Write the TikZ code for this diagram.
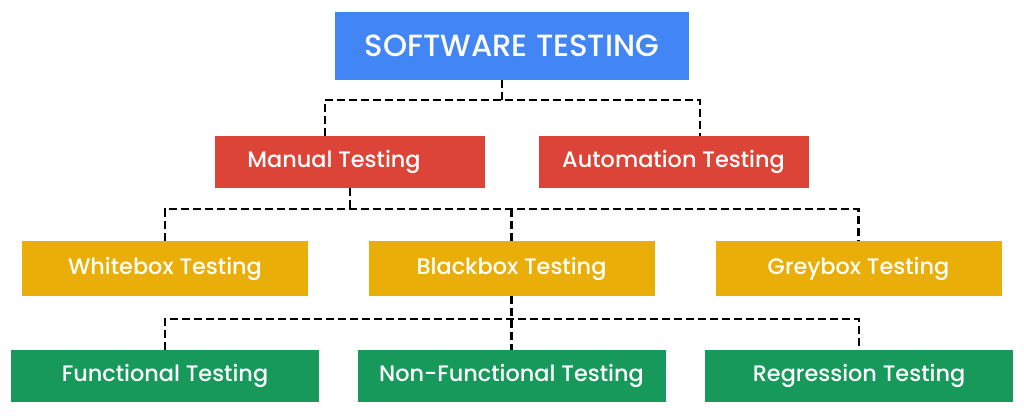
\documentclass[tikz,border=0pt]{standalone}
\usepackage{fontspec}
\setmainfont{Poppins}[UprightFont=*-Medium,BoldFont=*-SemiBold]
\definecolor{gblue}{HTML}{4285F4}
\definecolor{gred}{HTML}{DB4437}
\definecolor{gyellow}{HTML}{EAAE08}
\definecolor{ggreen}{HTML}{16995A}
\tikzset{
  box/.style={rectangle, text=white, inner sep=0pt, font=\fontsize{16.8}{19}\selectfont},
  topbox/.style={box, fill=gblue, minimum width=265.5pt, minimum height=51pt, font=\fontsize{23}{25}\selectfont},
  redbox/.style={box, fill=gred, minimum width=202.5pt, minimum height=39pt},
  yellowbox/.style={box, fill=gyellow, minimum width=214.5pt, minimum height=41.25pt},
  greenbox/.style={box, fill=ggreen, minimum width=231pt, minimum height=39pt},
  link/.style={line width=1.7pt, dash pattern=on 6pt off 3pt},
}
\begin{document}
\begin{tikzpicture}[x=0.75pt,y=-0.75pt]
  \useasboundingbox (0,0) rectangle (1024,416);
  % boxes
  \node[topbox] (st) at (512,46) {SOFTWARE TESTING};
  \node[redbox] (man) at (350,162) {\hspace*{-24pt}Manual Testing};
  \node[redbox] (auto) at (673.5,162) {Automation Testing};
  \node[yellowbox] (white) at (165,268.5) {Whitebox Testing};
  \node[yellowbox] (black) at (511.5,268.5) {Blackbox Testing};
  \node[yellowbox] (grey) at (858.5,268.5) {Greybox Testing};
  \node[greenbox] (func) at (165,376) {Functional Testing};
  \node[greenbox] (nonf) at (511.5,376) {Non-Functional Testing};
  \node[greenbox] (reg) at (859,376) {Regression Testing};
  % junctions
  \coordinate (j1) at (502,100);
  \coordinate (j2) at (350,209);
  \coordinate (j3) at (511.5,319);
  % links
  \draw[link] ([xshift=-7.5pt]st.south) -- (j1);
  \draw[link] ([xshift=-18.75pt]man.north) |- (j1) -| ([xshift=19.875pt]auto.north);
  \draw[link] (man.south) -- (j2);
  \draw[link] (white.north) |- (j2) -| (grey.north);
  \draw[link] (black.north) -- (black.north |- j2);
  \draw[link] (black.south) -- (nonf.north);
  \draw[link] (func.north) |- (j3) -| (reg.north);
\end{tikzpicture}
\end{document}
